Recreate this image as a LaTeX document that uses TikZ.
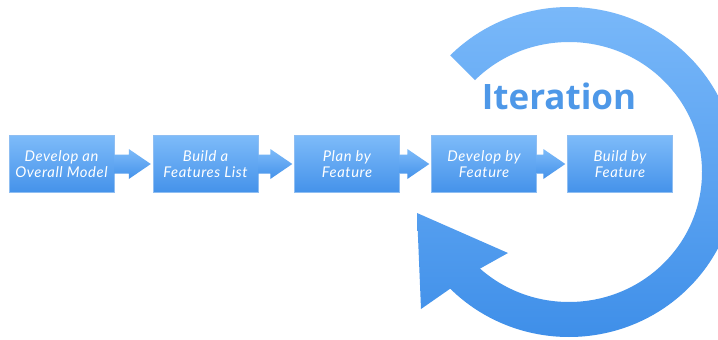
\documentclass[tikz,border=0pt]{standalone}
\usepackage{fontspec}
\setmainfont{Lato}
\newfontfamily\boxfont{Lato}[LetterSpace=4.0]
\newfontfamily\iterfont{Open Sans}
\usetikzlibrary{calc}
\definecolor{boxtop}{RGB}{126,187,249}
\definecolor{boxbot}{RGB}{68,146,234}
\definecolor{ringtop}{RGB}{124,186,250}
\definecolor{ringbot}{RGB}{60,141,232}
\definecolor{itercol}{RGB}{78,152,232}
\tikzset{
  stepbox/.style={minimum width=105pt, minimum height=57pt, inner sep=0pt,
    top color=boxtop, bottom color=boxbot, draw=boxbot!60!white, line width=0.4pt,
    text=white, font=\boxfont\itshape\fontsize{14.8}{16.5}\selectfont, align=center},
  flowshade/.style={top color=boxtop, bottom color=boxbot},
  ringshade/.style={top color=ringtop, bottom color=ringbot},
  itertext/.style={font=\iterfont\bfseries\fontsize{35}{40}\selectfont, text=itercol, inner sep=0pt}
}
\newcommand\flowarrow[2]{%
  \shade[flowshade] ($(#1.east)+(0,-9.5)$) -- ($(#2.west)+(-24,-9.5)$)
    -- ($(#2.west)+(-24,-15)$) -- ($(#2.west)+(-2,0)$) -- ($(#2.west)+(-24,15)$)
    -- ($(#2.west)+(-24,9.5)$) -- ($(#1.east)+(0,9.5)$) -- cycle;}
\begin{document}
\begin{tikzpicture}[x=1pt,y=-1pt]
\useasboundingbox (0,0) rectangle (718,340);
\clip (0,0) rectangle (718,340);
\fill[white] (0,0) rectangle (718,340);
\coordinate (C) at (569,172);
\coordinate (tip) at (417,213);
\coordinate (hr) at (508,253);
\coordinate (hl) at (421,309);
\shade[ringshade]
  ($(C)+(225:168 and 165)$) arc[start angle=225, end angle=495, x radius=168, y radius=165]
  -- (hl) -- (tip) -- (hr)
  -- ($(C)+(492:133 and 130)$) arc[start angle=492, end angle=225, x radius=133, y radius=130]
  -- cycle;
\node[stepbox] (b1) at (61.5,164) {Develop an\\Overall Model};
\node[stepbox] (b2) at (205.5,164) {Build a\\Features List};
\node[stepbox] (b3) at (347,164) {Plan by\\Feature};
\node[stepbox] (b4) at (484,164) {Develop by\\Feature};
\node[stepbox] (b5) at (620,164) {Build by\\Feature};
\flowarrow{b1}{b2}
\flowarrow{b2}{b3}
\flowarrow{b3}{b4}
\flowarrow{b4}{b5}
\node[itertext] (iter) at (559,96) {Iteration};
\end{tikzpicture}
\end{document}
